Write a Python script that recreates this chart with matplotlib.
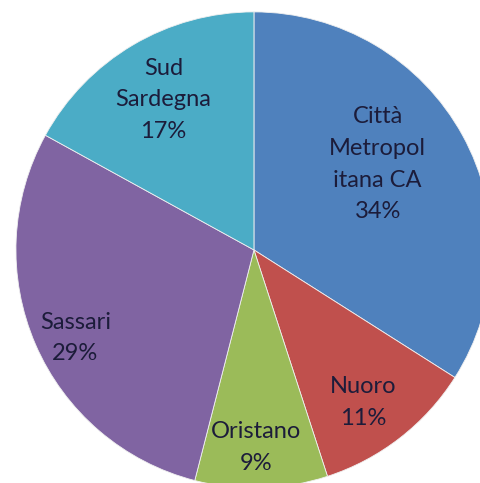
import matplotlib
matplotlib.use('Agg')
import matplotlib.pyplot as plt

labels = ['Città\nMetropol\nitana CA', 'Nuoro', 'Oristano', 'Sassari', 'Sud\nSardegna']
values = [34, 11, 9, 29, 17]
colors = ['#4F81BD', '#C0504D', '#9BBB59', '#8064A2', '#4BACC6']

# posizioni delle etichette (come in Excel, a mano)
label_pos = [(0.52, 0.36), (0.46, -0.64), (0.01, -0.83), (-0.75, -0.37), (-0.38, 0.63)]

fig = plt.figure(figsize=(4.81, 4.83), dpi=100)
ax = fig.add_axes([0, 0, 1, 1])
ax.pie(values, colors=colors, startangle=90, counterclock=False, radius=1,
       wedgeprops=dict(edgecolor='#f0f0f0', linewidth=0.6))

for lab, val, (x, y) in zip(labels, values, label_pos):
    ax.text(x, y, f'{lab}\n{val}%', ha='center', va='center', fontsize=17,
            family='Lato', color='#1c1c3a', linespacing=1.62)

ax.set_xlim(-1.067, 0.954)
ax.set_ylim(-0.979, 1.050)
ax.set_aspect('auto')
ax.axis('off')
fig.savefig('out.png', dpi=100)
